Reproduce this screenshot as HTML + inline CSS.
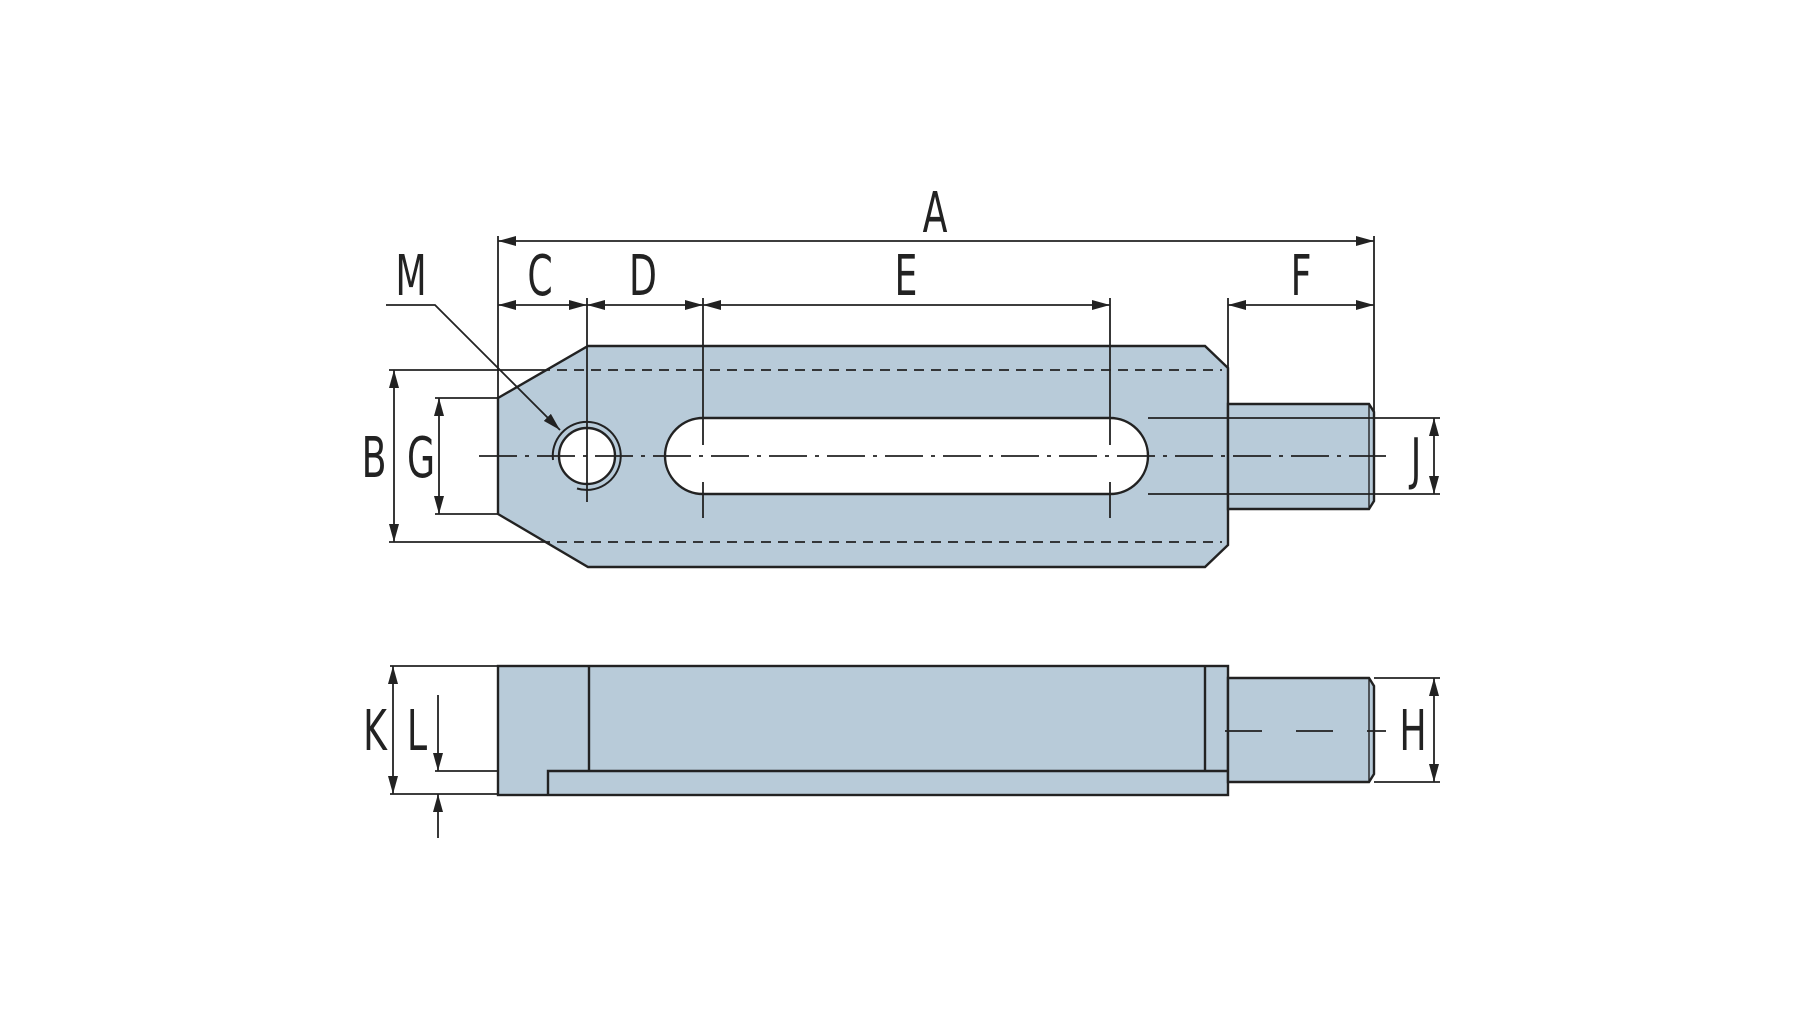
<!DOCTYPE html>
<html><head><meta charset="utf-8"><style>
html,body{margin:0;padding:0;background:#fff;}
svg{display:block;}
text{font-family:"DejaVu Sans Condensed","Liberation Sans",sans-serif;font-size:56px;fill:#222;text-anchor:middle;}
</style></head><body>
<svg width="1800" height="1028" viewBox="0 0 1800 1028" xmlns="http://www.w3.org/2000/svg">
<defs>
<marker id="ar" viewBox="0 0 18 10" refX="18" refY="5" markerWidth="18" markerHeight="10" markerUnits="userSpaceOnUse" orient="auto-start-reverse">
<path d="M0,0 L18,5 L0,10 z" fill="#222"/></marker>
</defs>
<g stroke="#222" stroke-width="1.8" fill="none">
<polygon points="498,398 588,346 1205,346 1228,368 1228,545 1205,567 588,567 498,514" fill="#b8cbd9" stroke-width="2.4"/>
<polygon points="1228,404 1369,404 1374,412 1374,501 1369,509 1228,509" fill="#b8cbd9" stroke-width="2.4"/>
<line x1="1369" y1="404" x2="1369" y2="509" stroke-width="1.4"/>
<rect x="665" y="418" width="483" height="76" rx="38" ry="38" fill="#fff" stroke-width="2.4"/>
<circle cx="587" cy="456" r="28" fill="#fff" stroke-width="2.4"/>
<path d="M553,460 A34,34 0 1 1 577,488.5" stroke-width="2"/>
<line x1="540" y1="370" x2="1222" y2="370" stroke-dasharray="10,7"/>
<line x1="540" y1="542" x2="1222" y2="542" stroke-dasharray="10,7"/>
<line x1="479" y1="456" x2="1386" y2="456" stroke-dasharray="38,8,4,8"/>
<line x1="498" y1="236" x2="498" y2="398"/>
<line x1="1374" y1="236" x2="1374" y2="412"/>
<line x1="587" y1="298" x2="587" y2="502"/>
<line x1="703" y1="298" x2="703" y2="445"/><line x1="703" y1="482" x2="703" y2="518"/>
<line x1="1110" y1="298" x2="1110" y2="445"/><line x1="1110" y1="482" x2="1110" y2="518"/>
<line x1="1228" y1="298" x2="1228" y2="368"/>
<line x1="389" y1="370" x2="540" y2="370"/>
<line x1="389" y1="542" x2="540" y2="542"/>
<line x1="435" y1="398" x2="498" y2="398"/>
<line x1="435" y1="514" x2="498" y2="514"/>
<line x1="1148" y1="418" x2="1440" y2="418"/>
<line x1="1148" y1="494" x2="1440" y2="494"/>
<line x1="498" y1="241" x2="1374" y2="241" marker-start="url(#ar)" marker-end="url(#ar)"/>
<line x1="498" y1="305" x2="587" y2="305" marker-start="url(#ar)" marker-end="url(#ar)"/>
<line x1="587" y1="305" x2="703" y2="305" marker-start="url(#ar)" marker-end="url(#ar)"/>
<line x1="703" y1="305" x2="1110" y2="305" marker-start="url(#ar)" marker-end="url(#ar)"/>
<line x1="1228" y1="305" x2="1374" y2="305" marker-start="url(#ar)" marker-end="url(#ar)"/>
<line x1="394" y1="370" x2="394" y2="542" marker-start="url(#ar)" marker-end="url(#ar)"/>
<line x1="439" y1="398" x2="439" y2="514" marker-start="url(#ar)" marker-end="url(#ar)"/>
<line x1="1434" y1="418" x2="1434" y2="494" marker-start="url(#ar)" marker-end="url(#ar)"/>
<polyline points="386,305 435,305 560,430" marker-end="url(#ar)"/>
<rect x="498" y="666" width="730" height="129" fill="#b8cbd9" stroke-width="2.4"/>
<polygon points="1228,678 1369,678 1374,686 1374,774 1369,782 1228,782" fill="#b8cbd9" stroke-width="2.4"/>
<line x1="1369" y1="678" x2="1369" y2="782" stroke-width="1.4"/>
<line x1="589" y1="666" x2="589" y2="771" stroke-width="2.4"/>
<line x1="1205" y1="666" x2="1205" y2="771" stroke-width="2.4"/>
<polyline points="1228,771 548,771 548,795" stroke-width="2.4"/>
<line x1="1225" y1="731" x2="1386" y2="731" stroke-dasharray="37,34"/>
<line x1="390" y1="666" x2="498" y2="666"/>
<line x1="390" y1="794" x2="498" y2="794"/>
<line x1="435" y1="771" x2="498" y2="771"/>
<line x1="1374" y1="678" x2="1440" y2="678"/>
<line x1="1374" y1="782" x2="1440" y2="782"/>
<line x1="393" y1="666" x2="393" y2="794" marker-start="url(#ar)" marker-end="url(#ar)"/>
<line x1="1434" y1="678" x2="1434" y2="782" marker-start="url(#ar)" marker-end="url(#ar)"/>
<line x1="438" y1="695" x2="438" y2="771" marker-end="url(#ar)"/>
<line x1="438" y1="838" x2="438" y2="794" marker-end="url(#ar)"/>
</g>
<g>
<text transform="translate(935,232) scale(0.72,1)">A</text>
<text transform="translate(540,295) scale(0.72,1)">C</text>
<text transform="translate(643,295) scale(0.72,1)">D</text>
<text transform="translate(906,295) scale(0.72,1)">E</text>
<text transform="translate(1301,295) scale(0.72,1)">F</text>
<text transform="translate(411,295) scale(0.72,1)">M</text>
<text transform="translate(374,477) scale(0.72,1)">B</text>
<text transform="translate(421,477) scale(0.72,1)">G</text>
<text transform="translate(1416,478) scale(0.72,1)">J</text>
<text transform="translate(1413,750) scale(0.72,1)">H</text>
<text transform="translate(375,750) scale(0.72,1)">K</text>
<text transform="translate(417,750) scale(0.72,1)">L</text>
</g>
</svg>
</body></html>
